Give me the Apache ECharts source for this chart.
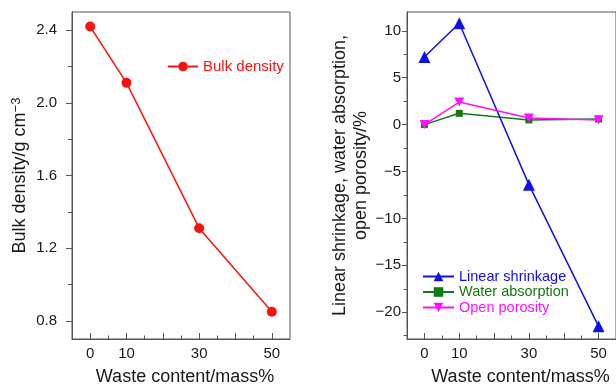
<!DOCTYPE html>
<html>
<head>
<meta charset="utf-8">
<script src="https://cdn.jsdelivr.net/npm/echarts@6/dist/echarts.min.js"></script>
<style>html,body{margin:0;padding:0;background:#fff;}#c{width:616px;height:391px;}</style>
</head>
<body>
<div id="c"></div>
<script>
// ---- data ----
var wasteContent = [0, 10, 30, 50];
var bulkDensity = [2.42, 2.11, 1.31, 0.85];
var linearShrinkage = [7.2, 10.8, -6.4, -21.5];
var waterAbsorption = [0, 1.2, 0.5, 0.6];
var openPorosity = [0, 2.4, 0.7, 0.5];

// ---- ticks ----
var xTickLabels = [0, 10, 30, 50];
var xMajorTicks = [0, 10, 20, 30, 40, 50];
var xMinorTicks = [5, 15, 25, 35, 45];
var leftYTicks = [0.8, 1.2, 1.6, 2.0, 2.4];
var leftYMinor = [1.0, 1.4, 1.8, 2.2];
var rightYTicks = [-20, -15, -10, -5, 0, 5, 10];
var rightYMinor = [-22.5, -17.5, -12.5, -7.5, -2.5, 2.5, 7.5];

var FONT = 'Liberation Sans, Arial, Helvetica, sans-serif';
var TXT = '#1a1a1a';
var AX = '#555';

function pairs(xs, ys) { return xs.map(function (x, i) { return [x, ys[i]]; }); }
function minus(v) { return v < 0 ? '\u2212' + Math.abs(v) : String(v); }

var chart = echarts.init(document.getElementById('c'), null, {renderer: 'canvas'});

function xAxes(gi, padLeft) {
  return [
    {
      type: 'value', gridIndex: gi, min: -5, max: 55, position: 'bottom',
      name: 'Waste content/mass%', nameLocation: 'middle', nameGap: 29,
      nameTextStyle: {fontFamily: FONT, fontSize: 18, color: TXT, padding: [0, 0, 0, padLeft]},
      axisLine: {show: true, onZero: false, lineStyle: {color: AX, width: 1}},
      axisTick: {show: true, inside: true, length: 6, customValues: xMajorTicks, lineStyle: {color: AX}},
      axisLabel: {show: true, customValues: xTickLabels, margin: 7, fontFamily: FONT, fontSize: 15, color: TXT},
      splitLine: {show: false}
    },
    {
      type: 'value', gridIndex: gi, min: -5, max: 55, position: 'bottom',
      axisLine: {show: false, onZero: false},
      axisTick: {show: true, inside: true, length: 3.5, customValues: xMinorTicks, lineStyle: {color: AX}},
      axisLabel: {show: false},
      splitLine: {show: false}
    }
  ];
}

var xa = xAxes(0, 8).concat(xAxes(1, 18));

var ya = [
  {
    type: 'value', gridIndex: 0, min: 0.7, max: 2.5, position: 'left',
    name: 'Bulk density/g cm{sup|\u22123}', nameLocation: 'middle', nameGap: 41,
    nameTextStyle: {fontFamily: FONT, fontSize: 18, color: TXT,
      rich: {sup: {fontFamily: FONT, fontSize: 13, color: TXT, verticalAlign: 'top', padding: [0, 0, 8, 0]}}},
    axisLine: {show: true, onZero: false, lineStyle: {color: AX, width: 1}},
    axisTick: {show: true, inside: false, length: 6, customValues: leftYTicks, lineStyle: {color: AX}},
    axisLabel: {show: true, customValues: leftYTicks, margin: 15, fontFamily: FONT, fontSize: 15, color: TXT,
      formatter: function (v) { return v.toFixed(1); }},
    splitLine: {show: false}
  },
  {
    type: 'value', gridIndex: 0, min: 0.7, max: 2.5, position: 'left',
    axisLine: {show: false, onZero: false},
    axisTick: {show: true, inside: false, length: 4, customValues: leftYMinor, lineStyle: {color: AX}},
    axisLabel: {show: false}, splitLine: {show: false}
  },
  {
    type: 'value', gridIndex: 1, min: -22.85, max: 12, position: 'left',
    name: 'Linear shrinkage, water absorption,\nopen porosity/%', nameLocation: 'middle', nameGap: 34,
    nameTextStyle: {fontFamily: FONT, fontSize: 18, color: TXT, lineHeight: 21},
    axisLine: {show: true, onZero: false, lineStyle: {color: AX, width: 1}},
    axisTick: {show: true, inside: false, length: 5, customValues: rightYTicks, lineStyle: {color: AX}},
    axisLabel: {show: true, customValues: rightYTicks, margin: 6, fontFamily: FONT, fontSize: 15, color: TXT,
      formatter: minus},
    splitLine: {show: false}
  },
  {
    type: 'value', gridIndex: 1, min: -22.85, max: 12, position: 'left',
    axisLine: {show: false, onZero: false},
    axisTick: {show: true, inside: false, length: 3.5, customValues: rightYMinor, lineStyle: {color: AX}},
    axisLabel: {show: false}, splitLine: {show: false}
  }
];

var INV_TRI = 'path://M0,0 L10,0 L5,9 Z';

chart.setOption({
  animation: false,
  backgroundColor: '#fff',
  textStyle: {fontFamily: FONT},
  grid: [
    {left: 72, top: 12, width: 218, height: 329, show: true, borderColor: AX, borderWidth: 1, backgroundColor: 'transparent'},
    {left: 407, top: 12, width: 218, height: 329, show: true, borderColor: AX, borderWidth: 1, backgroundColor: 'transparent'}
  ],
  xAxis: xa,
  yAxis: ya,
  legend: [
    {
      left: 162, top: 54, orient: 'vertical', itemWidth: 30, itemHeight: 12, itemGap: 1,
      backgroundColor: '#fff',
      textStyle: {fontFamily: FONT, fontSize: 15},
      data: [{name: 'Bulk density', textStyle: {color: '#ff1010'}}]
    },
    {
      left: 417, top: 264, orient: 'vertical', itemWidth: 31, itemHeight: 12, itemGap: 0.5,
      textStyle: {fontFamily: FONT, fontSize: 14.5},
      data: [
        {name: 'Linear shrinkage', textStyle: {color: '#1010ee'}},
        {name: 'Water absorption', textStyle: {color: '#127a12'}},
        {name: 'Open porosity', textStyle: {color: '#ff10ff'}}
      ]
    }
  ],
  series: [
    {
      name: 'Bulk density', type: 'line', xAxisIndex: 0, yAxisIndex: 0,
      data: pairs(wasteContent, bulkDensity),
      symbol: 'circle', symbolSize: 10, showAllSymbol: true,
      lineStyle: {color: '#ff1010', width: 1.5}, itemStyle: {color: '#ff1010'}
    },
    {
      name: 'Linear shrinkage', type: 'line', xAxisIndex: 2, yAxisIndex: 2,
      data: pairs(wasteContent, linearShrinkage),
      symbol: 'triangle', symbolSize: 12,
      lineStyle: {color: '#1010ee', width: 1.5}, itemStyle: {color: '#1010ee'}, z: 3
    },
    {
      name: 'Water absorption', type: 'line', xAxisIndex: 2, yAxisIndex: 2,
      data: pairs(wasteContent, waterAbsorption),
      symbol: 'rect', symbolSize: 7,
      lineStyle: {color: '#127a12', width: 1.5}, itemStyle: {color: '#127a12'}, z: 2
    },
    {
      name: 'Open porosity', type: 'line', xAxisIndex: 2, yAxisIndex: 2,
      data: pairs(wasteContent, openPorosity),
      symbol: INV_TRI, symbolSize: [10, 9],
      lineStyle: {color: '#ff10ff', width: 1.5}, itemStyle: {color: '#ff10ff'}, z: 4
    }
  ]
});
</script>
</body>
</html>
